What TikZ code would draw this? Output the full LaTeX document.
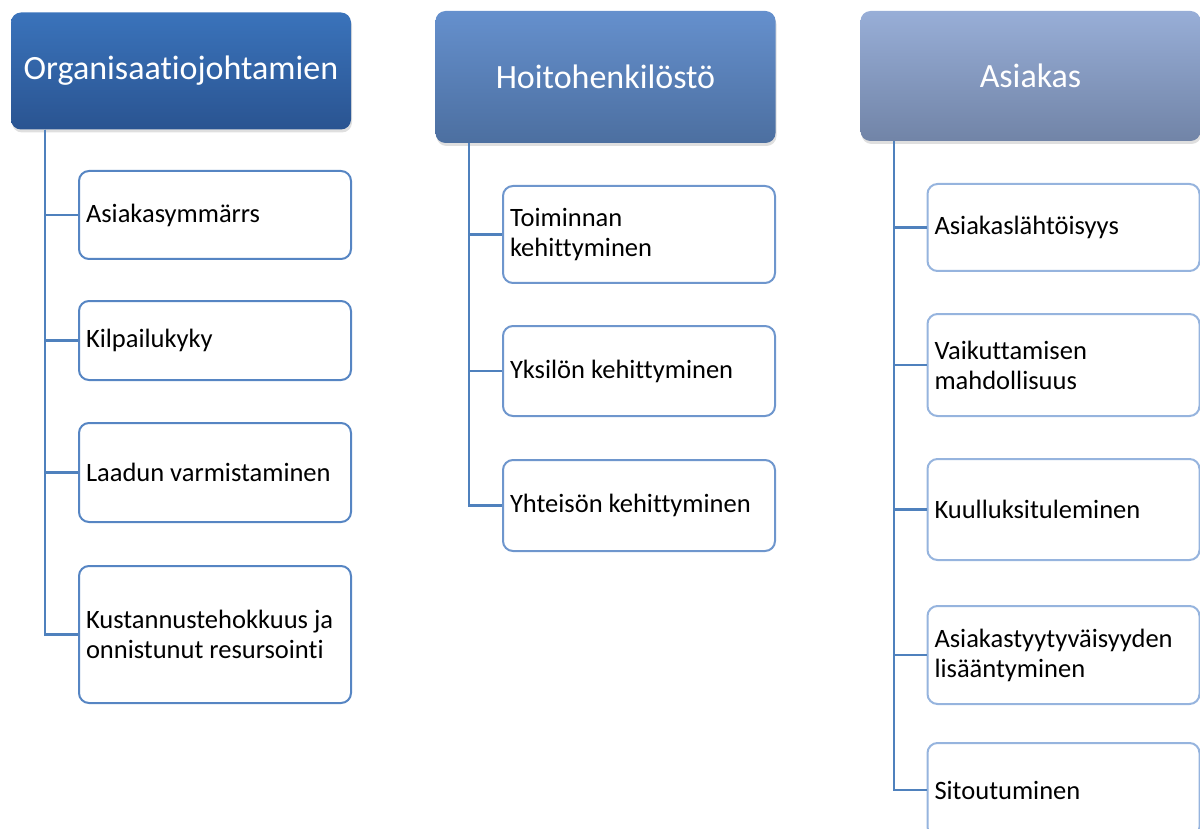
\documentclass[tikz,border=0pt]{standalone}
\usepackage{fontspec}
\setmainfont{Carlito}[Ligatures=NoCommon]
\usetikzlibrary{shadows}

\definecolor{linkblue}{RGB}{79,129,189}
\definecolor{hdrAtop}{RGB}{58,115,187}
\definecolor{hdrAbot}{RGB}{42,84,145}
\definecolor{hdrBtop}{RGB}{101,144,205}
\definecolor{hdrBbot}{RGB}{76,111,160}
\definecolor{hdrCtop}{RGB}{152,174,215}
\definecolor{hdrCbot}{RGB}{113,132,167}
\definecolor{edgeA}{RGB}{86,133,195}
\definecolor{edgeB}{RGB}{110,150,205}
\definecolor{edgeC}{RGB}{150,180,222}

\tikzset{
  hdr/.style={rounded corners=10pt, minimum width=340pt, text=white,
    font=\fontsize{34}{40}\selectfont,
    drop shadow={opacity=0.25, shadow xshift=1pt, shadow yshift=-3pt}},
  leaf/.style={draw=#1, fill=white, rounded corners=10pt, line width=2pt,
    text width=258pt, inner xsep=7pt, align=flush left,
    font=\fontsize{26.5}{30}\selectfont},
  link/.style={draw=linkblue, line width=2.2pt}
}

\begin{document}
\begin{tikzpicture}[x=1pt,y=-1pt]
\path[use as bounding box] (0,0) rectangle (1200,829);
\clip (0,0) rectangle (1200,829);

% Header nodes
\node[hdr, minimum height=117pt, top color=hdrAtop, bottom color=hdrAbot] (h1) at (181,71) {Organisaatiojohtamien};
\node[hdr, minimum height=132pt, top color=hdrBtop, bottom color=hdrBbot] (h2) at (605.5,77) {Hoitohenkilöstö};
\node[hdr, minimum height=130pt, top color=hdrCtop, bottom color=hdrCbot] (h3) at (1030.5,76) {Asiakas};

% Column 1
\node[leaf=edgeA, minimum height=88pt] (c11) at (215,215) {Asiakasymmärrs};
\node[leaf=edgeA, minimum height=79pt] (c12) at (215,340.5) {Kilpailukyky};
\node[leaf=edgeA, minimum height=99pt] (c13) at (215,472.5) {Laadun varmistaminen};
\node[leaf=edgeA, minimum height=137pt] (c14) at (215,634.5) {Kustannustehokkuus ja\\onnistunut resursointi};

% Column 2
\node[leaf=edgeB, minimum height=97pt] (c21) at (639,234.5) {Toiminnan\\kehittyminen};
\node[leaf=edgeB, minimum height=90pt] (c22) at (639,371) {Yksilön kehittyminen};
\node[leaf=edgeB, minimum height=91pt] (c23) at (639,505.5) {Yhteisön kehittyminen};

% Column 3
\node[leaf=edgeC, minimum height=87pt] (c31) at (1063.5,227.5) {Asiakaslähtöisyys};
\node[leaf=edgeC, minimum height=102pt] (c32) at (1063.5,365) {Vaikuttamisen\\mahdollisuus};
\node[leaf=edgeC, minimum height=101pt] (c33) at (1063.5,509.5) {Kuulluksituleminen};
\node[leaf=edgeC, minimum height=98pt] (c34) at (1063.5,655) {Asiakastyytyväisyyden\\lisääntyminen};
\node[leaf=edgeC, minimum height=94pt] (c35) at (1063.5,790) {Sitoutuminen};

% Connectors
\foreach \c in {c11,c12,c13,c14}
  \draw[link] ([xshift=34pt]h1.south west) |- (\c.west);
\foreach \c in {c21,c22,c23}
  \draw[link] ([xshift=34pt]h2.south west) |- (\c.west);
\foreach \c in {c31,c32,c33,c34,c35}
  \draw[link] ([xshift=34pt]h3.south west) |- (\c.west);

\end{tikzpicture}
\end{document}
